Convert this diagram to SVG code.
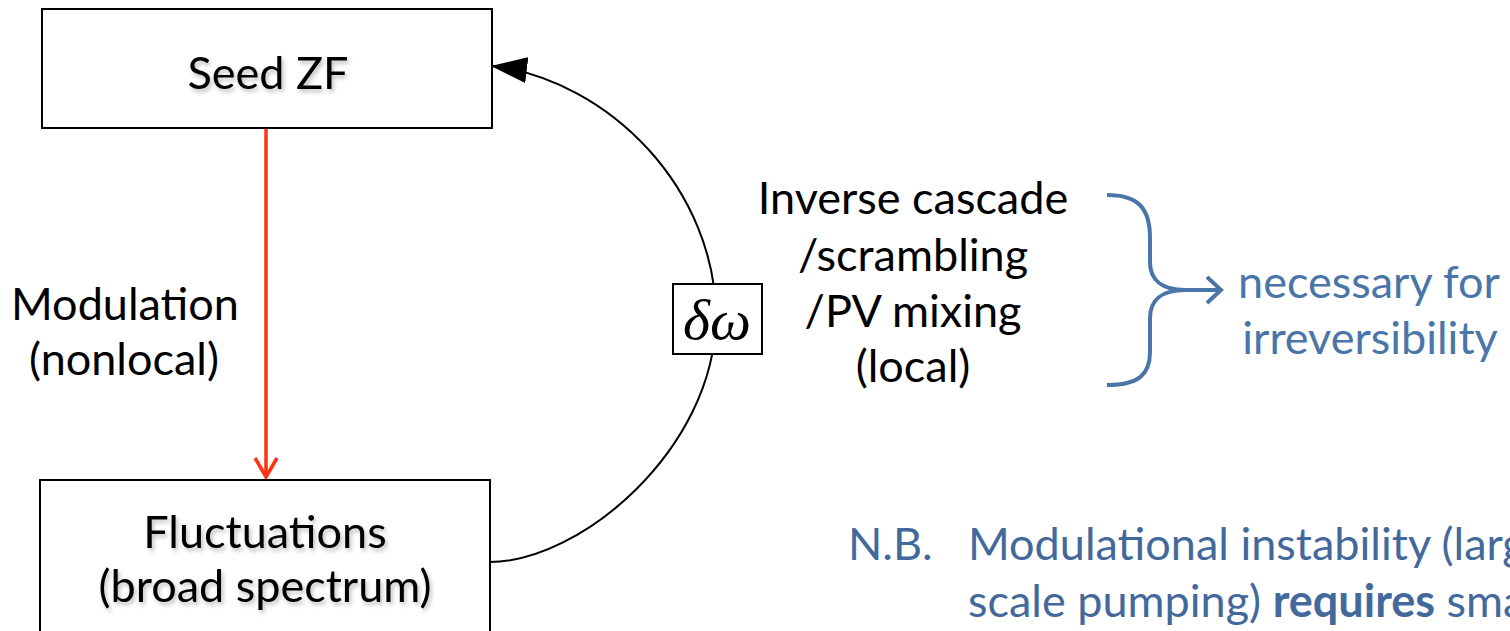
<svg xmlns="http://www.w3.org/2000/svg" width="1510" height="631" viewBox="0 0 1510 631">
<style>
.box{fill:#fff;stroke:#000;stroke-width:2}
.t{font-family:Lato,"Liberation Sans",sans-serif;font-size:45px;fill:#000;text-anchor:middle}
.sh{filter:url(#ts)}
.b{fill:#4a75a8}
.nb{font-family:Lato,"Liberation Sans",sans-serif;font-size:45px;fill:#43699c}
.greek{font-family:"Liberation Serif","DejaVu Serif",serif;font-style:italic;font-size:58px;text-anchor:middle}
</style>
<defs>
<filter id="ts" x="-10%" y="-30%" width="120%" height="160%">
<feDropShadow dx="2" dy="3" stdDeviation="2" flood-color="#000" flood-opacity="0.25"/>
</filter>
<marker id="tri" viewBox="0 0 36 26" refX="35" refY="13" markerWidth="36" markerHeight="26" markerUnits="userSpaceOnUse" orient="auto">
<path d="M0,0 L36,13 L0,26 Z" fill="#000"/>
</marker>
</defs>
<rect width="1510" height="631" fill="#fff"/>
<g id="connectors">
<path id="feedback" d="M490,562 C580,562 714,450 716,318 C716,190 610,80 492,66" fill="none" stroke="#000" stroke-width="2" marker-end="url(#tri)"/>
<g id="modulation-arrow" fill="none" stroke="#ff3212" stroke-width="3.5">
<line x1="266" y1="129" x2="266" y2="477"/>
<polyline points="255,458 266,477 277,458" stroke-linejoin="miter"/>
</g>
<g id="brace" fill="none" stroke="#4a75a8" stroke-width="4">
<path d="M1107,195 C1138,195 1150,208 1150,238 L1150,262 C1150,280 1162,290 1185,290 C1162,290 1150,300 1150,318 L1150,352 C1150,375 1138,385 1107,385"/>
<line x1="1185" y1="290" x2="1220" y2="290"/>
<polyline points="1207,277 1221,290 1207,303"/>
</g>
</g>
<g id="seed">
<rect class="box" x="42" y="9" width="450" height="119"/>
<text class="t sh" x="268" y="89">Seed ZF</text>
</g>
<g id="fluct">
<rect class="box" x="40" y="480" width="450" height="170"/>
<text class="t sh" x="265" y="548">Fluctuations</text>
<text class="t sh" x="265" y="602">(broad spectrum)</text>
</g>
<g id="modulation-label">
<text class="t" x="125" y="320">Modulation</text>
<text class="t" x="124" y="375">(nonlocal)</text>
</g>
<g id="dw">
<rect class="box" x="673" y="284" width="89" height="70"/>
<text class="greek" x="717" y="339">δω</text>
</g>
<g id="cascade-label">
<text class="t" x="913" y="214">Inverse cascade</text>
<text class="t" x="913" y="271">/scrambling</text>
<text class="t" x="913" y="327">/PV mixing</text>
<text class="t" x="913" y="382">(local)</text>
</g>
<g id="irreversibility">
<text class="t b" x="1369" y="298">necessary for</text>
<text class="t b" x="1370" y="354">irreversibility</text>
</g>
<g id="note">
<text class="nb" x="848" y="560">N.B.</text>
<text class="nb" x="968" y="560">Modulational instability (larg</text>
<text class="nb" x="968" y="617">scale pumping) <tspan font-weight="bold">requires</tspan> sma</text>
</g>
</svg>
